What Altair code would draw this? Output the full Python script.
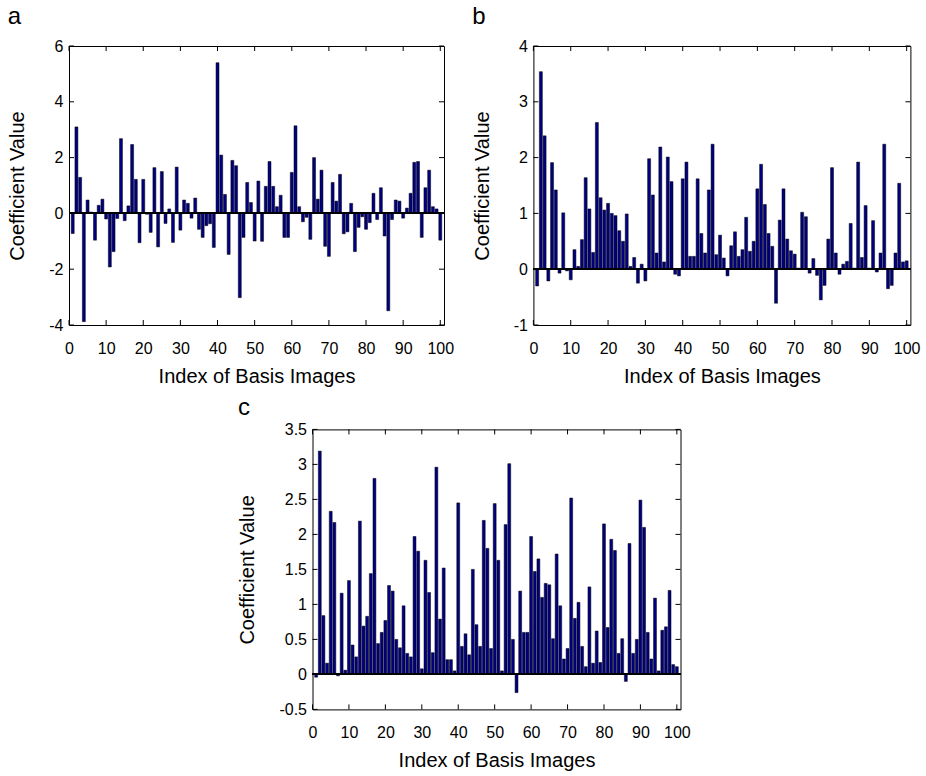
import altair as alt
import pandas as pd

index = list(range(1, 101))

coef_a = [-0.72, 3.1, 1.29, -3.88, 0.48, 0.05, -0.96, 0.29, 0.51, -0.2,
          -1.92, -1.37, -0.18, 2.68, -0.26, 0.27, 2.47, 1.22, -1.05, 1.22,
          -0.03, -0.68, 1.64, -1.2, 1.5, -0.36, 0.16, -1.04, 1.66, -0.6,
          0.48, 0.36, -0.17, 0.55, -0.57, -0.86, -0.44, -0.37, -1.22, 5.4,
          2.09, 0.68, -1.47, 1.9, 1.71, -3.02, -0.86, 1.11, 0.39, -0.99,
          1.16, -1.0, 0.97, 1.86, 0.97, 0.24, 0.65, -0.86, -0.86, 1.47,
          3.14, 0.24, -0.3, -0.14, -0.93, 2.0, 0.51, 1.55, -1.18, -1.54,
          1.11, 0.44, 1.4, -0.73, -0.66, 0.36, -1.37, -0.5, -0.12, -0.57,
          -0.33, 0.72, -0.22, 0.92, -0.81, -3.49, -0.22, 0.48, 0.44, -0.17,
          0.19, 0.72, 1.83, 1.86, -0.86, 0.92, 1.55, 0.24, 0.16, -0.96]

coef_b = [-0.3, 3.54, 2.39, -0.21, 1.91, 1.42, -0.07, 1.01, -0.03, -0.19,
          0.35, 0.05, 0.53, 1.64, 1.08, 0.3, 2.63, 1.28, 1.06, 1.18,
          1.0, 0.96, 0.69, 0.5, 0.99, 0.05, 0.21, -0.25, 0.09, -0.21,
          1.98, 1.33, 0.29, 2.19, 0.13, 2.01, 1.57, -0.09, -0.12, 1.62,
          1.92, 0.23, 0.23, 1.62, 0.64, 0.29, 1.42, 2.24, 0.26, 0.61,
          0.2, -0.12, 0.42, 0.67, 0.23, 0.35, 0.93, 0.32, 0.5, 1.44,
          1.88, 1.16, 0.64, 0.41, -0.61, 0.88, 1.44, 0.54, 0.33, 0.27,
          0.02, 1.02, 0.94, -0.07, 0.19, -0.11, -0.55, -0.29, 0.54, 1.82,
          0.29, -0.09, 0.09, 0.14, 0.82, 0.02, 1.92, 0.21, 1.14, 0.02,
          0.87, -0.05, 0.29, 2.24, -0.35, -0.29, 0.29, 1.54, 0.13, 0.15]

coef_c = [-0.04, 3.19, 0.84, 0.16, 2.33, 2.17, -0.02, 1.16, 0.06, 1.34,
          0.42, 0.25, 2.19, 0.69, 0.83, 1.44, 2.8, 0.44, 0.6, 0.77,
          1.27, 1.19, 0.5, 0.38, 0.98, 0.3, 0.25, 1.97, 1.76, 0.08,
          1.63, 1.17, 0.31, 2.96, 0.79, 1.52, 0.21, 0.21, 0.05, 2.45,
          0.4, 0.58, 0.28, 1.5, 0.71, 0.4, 2.2, 1.8, 0.37, 2.44,
          1.63, 0.05, 2.14, 3.01, 0.5, -0.26, 1.19, 0.6, 0.6, 1.97,
          1.47, 1.65, 1.1, 1.3, 1.28, 0.51, 1.72, 0.98, 0.22, 0.37,
          2.52, 0.8, 1.03, 0.4, 0.11, 1.25, 0.16, 0.62, 0.17, 2.15,
          0.67, 1.93, 1.77, 0.3, 0.51, -0.1, 1.87, 0.3, 0.5, 2.49,
          2.1, 0.6, 0.22, 1.09, 0.05, 0.63, 0.68, 1.2, 0.14, 0.11]

x_ticks = list(range(0, 101, 10))
y_ticks_a = [-4, -2, 0, 2, 4, 6]
y_ticks_b = [-1, 0, 1, 2, 3, 4]
y_ticks_c = [-0.5, 0, 0.5, 1, 1.5, 2, 2.5, 3, 3.5]

FONT = "Liberation Sans"
TICK = 5
LABEL_EXPR = "'' + datum.value"


def panel(values, ydom, yticks, w, h, label, title_offset):
    df = pd.DataFrame({"index": index, "value": values})
    xs = alt.Scale(domain=[0, 101], nice=False, zero=False)
    ys = alt.Scale(domain=ydom, nice=False, zero=False)
    xax = alt.Axis(values=x_ticks, title="Index of Basis Images",
                   ticks=False, domain=False, grid=False,
                   labelPadding=15, titlePadding=10, labelExpr=LABEL_EXPR,
                   labelFlush=False, labelOverlap=False)
    yax = alt.Axis(values=yticks, title="Coefficient Value",
                   ticks=False, domain=False, grid=False,
                   labelPadding=6, titlePadding=21, labelExpr=LABEL_EXPR,
                   labelFlush=False, labelOverlap=False)
    bars = alt.Chart(df).transform_calculate(
        x0="datum.index - 0.4", x1="datum.index + 0.4", base="0"
    ).mark_bar(color="#000080", stroke="black", strokeWidth=0.5).encode(
        x=alt.X("x0:Q", scale=xs, axis=xax),
        x2="x1:Q",
        y=alt.Y("value:Q", scale=ys, axis=yax),
        y2="base:Q",
    )
    zero = alt.Chart(df).mark_rule(color="black", strokeWidth=1).encode(
        y=alt.datum(0, scale=ys, axis=yax)
    )
    xt = pd.DataFrame({"t": x_ticks})
    yt = pd.DataFrame({"t": yticks})
    xtick_top = alt.Chart(xt).mark_rule(color="black").encode(
        x=alt.X("t:Q", scale=xs, axis=xax), y=alt.value(0), y2=alt.value(TICK))
    xtick_bot = alt.Chart(xt).mark_rule(color="black").encode(
        x=alt.X("t:Q", scale=xs, axis=xax), y=alt.value(h), y2=alt.value(h - TICK))
    ytick_l = alt.Chart(yt).mark_rule(color="black").encode(
        y=alt.Y("t:Q", scale=ys, axis=yax), x=alt.value(0), x2=alt.value(TICK))
    ytick_r = alt.Chart(yt).mark_rule(color="black").encode(
        y=alt.Y("t:Q", scale=ys, axis=yax), x=alt.value(w), x2=alt.value(w - TICK))
    return alt.layer(bars, zero, xtick_top, xtick_bot, ytick_l, ytick_r).properties(
        width=w, height=h,
        title=alt.TitleParams(text=label, anchor="start", frame="bounds",
                              font=FONT, fontSize=24, fontWeight="normal",
                              color="black", offset=title_offset),
    )


pa = panel(coef_a, [-4, 6], y_ticks_a, 375, 279, "a", 9)
pb = panel(coef_b, [-1, 4], y_ticks_b, 377, 279, "b", 9)
pc = panel(coef_c, [-0.5, 3.5], y_ticks_c, 368, 280, "c", 1)

spacer = alt.Chart(pd.DataFrame({"v": [0]})).mark_point(opacity=0).encode(
    x=alt.X("v:Q", axis=None), y=alt.Y("v:Q", axis=None)
).properties(width=1, height=280, view=alt.ViewBackground(strokeOpacity=0))

row1 = alt.hconcat(pa, pb, spacing=89.4, bounds="flush")
row2 = alt.hconcat(spacer, pc, spacing=242.5, bounds="flush")

# nested flush rows count as zero height, so spacing spans row 1 plus the gap
chart = alt.vconcat(row1, row2, spacing=383.4, bounds="flush").configure(
    padding={"left": 7, "top": 4, "right": 5, "bottom": 5},
    background="white",
).configure_view(
    stroke="black", strokeWidth=1
).configure_axis(
    labelFont=FONT, labelFontSize=16, labelColor="black",
    titleFont=FONT, titleFontSize=20, titleColor="black", titleFontWeight="normal",
)

chart.save("out.html", embed_options={"renderer": "svg", "actions": False})
